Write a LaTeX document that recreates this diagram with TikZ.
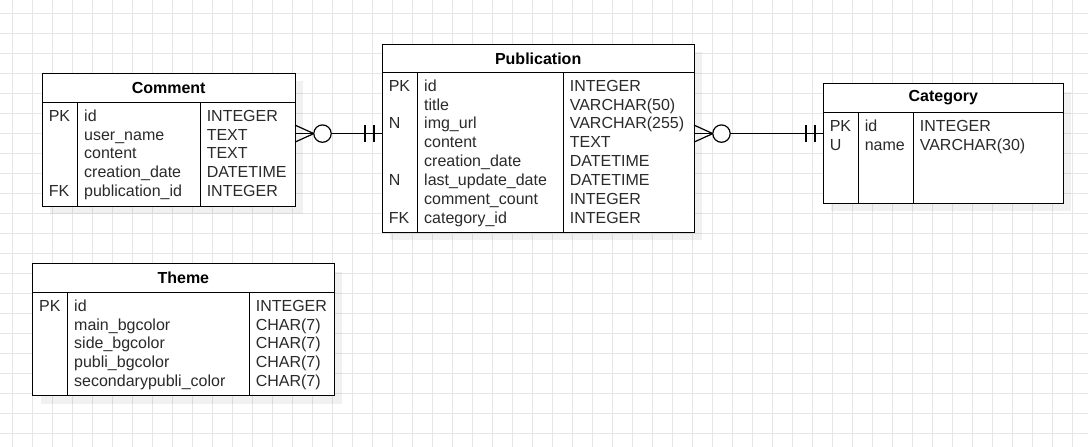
\documentclass[tikz,border=0pt]{standalone}
\usepackage{fontspec}
\setmainfont{Liberation Sans}
\usetikzlibrary{calc}
\definecolor{gridc}{HTML}{E6E6E6}
\definecolor{txtc}{HTML}{2A2A2A}
\tikzset{
  gridline/.style={draw=gridc, line width=0.9pt},
  tbox/.style={draw=black, fill=white, line width=1pt, inner sep=0pt, outer sep=0pt, rectangle},
  tline/.style={draw=black, line width=1pt},
  shadowc/.style={fill=black, opacity=0.055},
  ttitle/.style={inner sep=0pt, font=\fontsize{16}{19}\selectfont\bfseries, text=black},
  cell/.style={anchor=base west, inner sep=0pt, font=\fontsize{16}{19}\selectfont, text=txtc},
  conn/.style={draw=black, line width=1.2pt},
}
% #1 name, #2 L, #3 T, #4 R, #5 B, #6 header line y, #7 sep1 x, #8 sep2 x, #9 title
\newcommand\erbox[9]{%
  \fill[shadowc] (#2+8,#3+8) rectangle (#4+8,#5+8);
  \node[tbox, minimum width={#4-#2}, minimum height={#5-#3}, anchor=north west] (#1) at (#2,#3) {};
  \node[ttitle] (#1-title) at ({(#2+#4)/2},{(#3+#6)/2}) {#9};
  \draw[tline] (#2,#6) -- (#4,#6);
  \draw[tline] (#7,#6) -- (#7,#5);
  \draw[tline] (#8,#6) -- (#8,#5);
  \coordinate (#1-hk) at (#2+6.3,#6+18.9);
  \coordinate (#1-hn) at (#7+6.3,#6+18.9);
  \coordinate (#1-ht) at (#8+6.3,#6+18.9);
}
% #1 table, #2 index, #3 key, #4 field, #5 type
\newcommand\tabrow[5]{%
  \node[cell] (#1-k#2) at ($(#1-hk)+(0,{18.85*(#2-1)})$) {#3};
  \node[cell] (#1-n#2) at ($(#1-hn)+(0,{18.85*(#2-1)})$) {#4};
  \node[cell] (#1-t#2) at ($(#1-ht)+(0,{18.85*(#2-1)})$) {#5};
}
\begin{document}
\begin{tikzpicture}[x=1pt,y=-1pt]
\useasboundingbox (0,0) rectangle (1088,447);
\fill[white] (0,0) rectangle (1088,447);
% grid
\foreach \i in {0,...,53} \draw[gridline] (12.3+20*\i,0) -- (12.3+20*\i,447);
\foreach \j in {0,...,21} \draw[gridline] (0,13.3+20*\j) -- (1088,13.3+20*\j);

% Comment
\erbox{comment}{42.3}{73.3}{295}{206}{102.3}{77.7}{200.3}{Comment}
\tabrow{comment}{1}{PK}{id}{INTEGER}
\tabrow{comment}{2}{}{user\_name}{TEXT}
\tabrow{comment}{3}{}{content}{TEXT}
\tabrow{comment}{4}{}{creation\_date}{DATETIME}
\tabrow{comment}{5}{FK}{publication\_id}{INTEGER}

% Publication
\erbox{publication}{382.3}{44.3}{694}{232.3}{72.3}{417.7}{563.3}{Publication}
\tabrow{publication}{1}{PK}{id}{INTEGER}
\tabrow{publication}{2}{}{title}{VARCHAR(50)}
\tabrow{publication}{3}{N}{img\_url}{VARCHAR(255)}
\tabrow{publication}{4}{}{content}{TEXT}
\tabrow{publication}{5}{}{creation\_date}{DATETIME}
\tabrow{publication}{6}{N}{last\_update\_date}{DATETIME}
\tabrow{publication}{7}{}{comment\_count}{INTEGER}
\tabrow{publication}{8}{FK}{category\_id}{INTEGER}

% Category
\erbox{category}{823.3}{83.7}{1063.3}{203.3}{112.3}{858.3}{913.3}{Category}
\tabrow{category}{1}{PK}{id}{INTEGER}
\tabrow{category}{2}{U}{name}{VARCHAR(30)}

% Theme
\erbox{theme}{32.7}{263.7}{334}{395.7}{292.3}{67.7}{249.3}{Theme}
\tabrow{theme}{1}{PK}{id}{INTEGER}
\tabrow{theme}{2}{}{main\_bgcolor}{CHAR(7)}
\tabrow{theme}{3}{}{side\_bgcolor}{CHAR(7)}
\tabrow{theme}{4}{}{publi\_bgcolor}{CHAR(7)}
\tabrow{theme}{5}{}{secondarypubli\_color}{CHAR(7)}

% connectors
\coordinate (lv) at (0,133.6);
\coordinate (c1s) at (comment.east |- lv);
\coordinate (c1e) at (publication.west |- lv);
\coordinate (c2s) at (publication.east |- lv);
\coordinate (c2e) at (category.west |- lv);

\draw[conn] (c1s) -- (c1e);
\draw[conn] ($(c1s)+(0,-8.5)$) -- ($(c1s)+(18.8,0)$) -- ($(c1s)+(0,8.5)$);
\draw[conn, fill=white] ($(c1s)+(27.5,0)$) circle[radius=8.7];
\draw[conn] ($(c1e)+(-17.3,-8.5)$) -- ($(c1e)+(-17.3,8.5)$);
\draw[conn] ($(c1e)+(-8.3,-8.5)$) -- ($(c1e)+(-8.3,8.5)$);

\draw[conn] (c2s) -- (c2e);
\draw[conn] ($(c2s)+(0,-8.5)$) -- ($(c2s)+(18.8,0)$) -- ($(c2s)+(0,8.5)$);
\draw[conn, fill=white] ($(c2s)+(27.5,0)$) circle[radius=8.7];
\draw[conn] ($(c2e)+(-17.3,-8.5)$) -- ($(c2e)+(-17.3,8.5)$);
\draw[conn] ($(c2e)+(-8.3,-8.5)$) -- ($(c2e)+(-8.3,8.5)$);
\end{tikzpicture}
\end{document}
